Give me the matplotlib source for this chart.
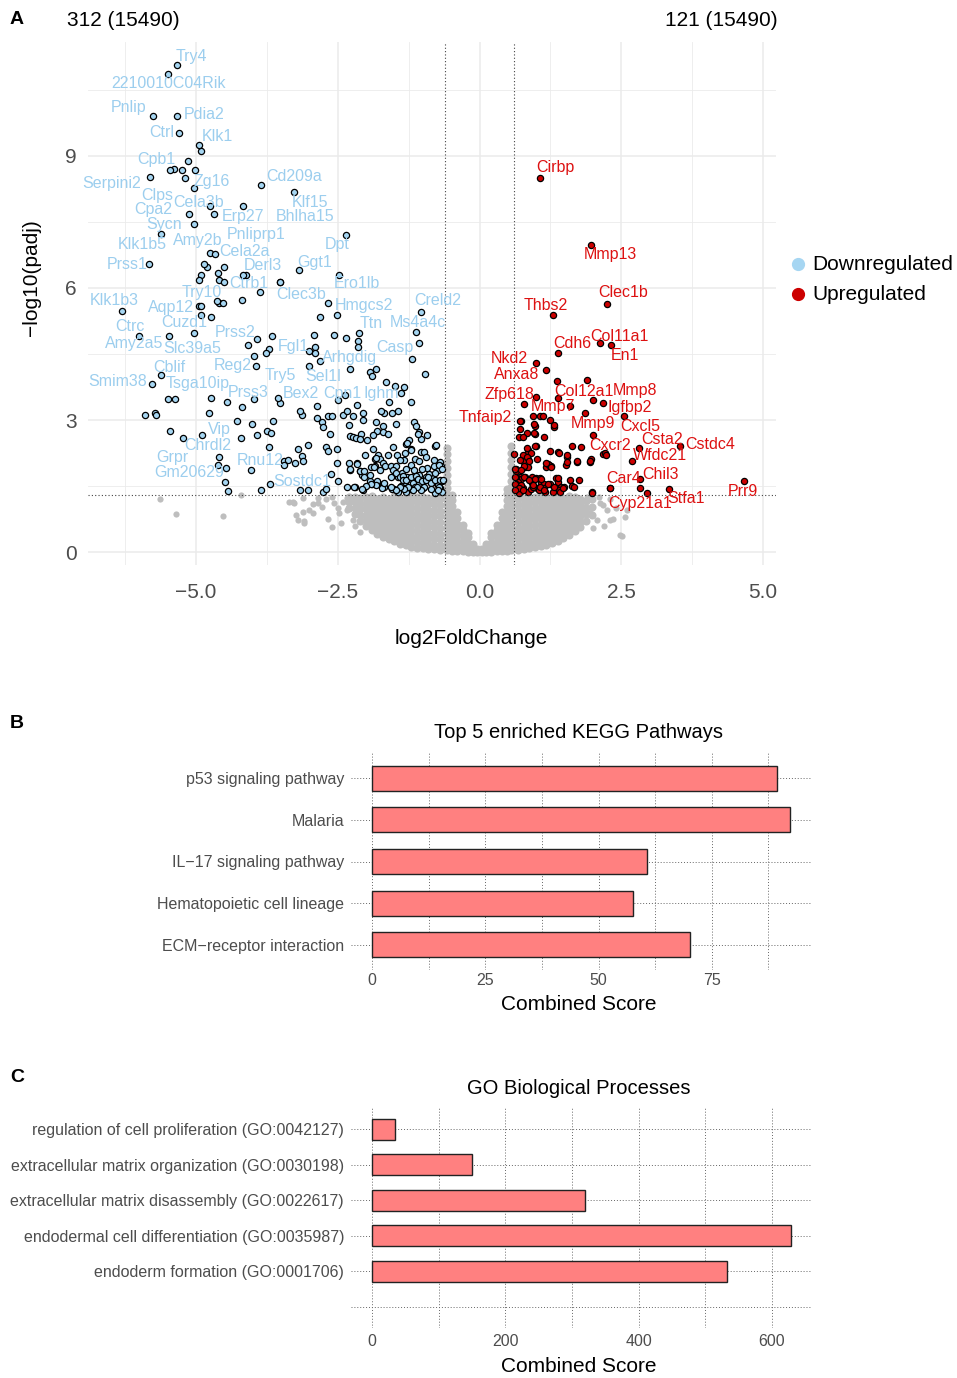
import matplotlib
matplotlib.use("Agg")
import matplotlib.pyplot as plt
from matplotlib.lines import Line2D
import numpy as np

plt.rcParams['font.family'] = ['Liberation Sans', 'DejaVu Sans']

W, H = 957, 1378

# ---------------- data ----------------
n_total = 15490
n_down = 312
n_up = 121
lfc_cut = 0.6
padj_cut = -np.log10(0.05)

# labelled down-regulated genes: (gene, log2FC, -log10 padj)
down_labeled = [
    ("Try4", -5.33, 11.07), ("2210010C04Rik", -5.50, 10.87), ("Pnlip", -5.76, 9.91),
    ("Pdia2", -5.33, 9.91), ("Ctrl", -5.30, 9.53), ("Klk1", -4.94, 9.25),
    ("Cpb1", -5.14, 8.89), ("Serpini2", -5.81, 8.52), ("Zg16", -5.03, 8.27),
    ("Cd209a", -3.86, 8.35), ("Clps", -5.20, 8.50), ("Cela3b", -4.76, 7.87),
    ("Cpa2", -5.12, 7.69), ("Erp27", -4.18, 7.87), ("Sycn", -5.03, 7.45),
    ("Klk1b5", -5.62, 7.22), ("Amy2b", -4.75, 6.80), ("Klf15", -3.28, 8.18),
    ("Bhlha15", -4.68, 7.69), ("Pnliprp1", -4.51, 6.47), ("Cela2a", -4.66, 6.77),
    ("Derl3", -4.11, 6.29), ("Ctrb1", -4.17, 6.29), ("Prss1", -5.83, 6.54),
    ("Ggt1", -3.18, 6.42), ("Dpt", -2.36, 7.21), ("Ero1lb", -2.47, 6.30),
    ("Clec3b", -3.51, 6.13), ("Try10", -4.63, 5.71), ("Klk1b3", -6.31, 5.48),
    ("Aqp12", -4.92, 5.39), ("Hmgcs2", -2.67, 5.67), ("Creld2", -1.03, 5.45),
    ("Ttn", -2.51, 5.38), ("Ms4a4c", -1.12, 5.00), ("Cuzd1", -5.03, 4.98),
    ("Ctrc", -6.01, 4.90), ("Amy2a5", -5.48, 4.90), ("Prss2", -3.93, 4.85),
    ("Slc39a5", -4.08, 4.70), ("Fgl1", -3.00, 4.57), ("Arhgdig", -2.28, 4.17),
    ("Casp", -1.19, 4.39), ("Reg2", -3.94, 4.22), ("Cblif", -5.61, 4.02),
    ("Smim38", -5.77, 3.82), ("Tsga10ip", -4.74, 3.49), ("Try5", -3.56, 3.51),
    ("Sel1l", -2.38, 3.56), ("Prss3", -4.46, 3.40), ("Bex2", -3.16, 3.20),
    ("Cpn1", -2.49, 3.45), ("Ighm", -1.74, 3.20), ("Vip", -4.89, 2.67),
    ("Chrdl2", -4.59, 2.17), ("Grpr", -5.23, 2.58), ("Gm20629", -4.62, 1.98),
    ("Rnu12", -4.03, 1.86), ("Sostdc1", -3.02, 1.40),
]

# other significant down-regulated genes: (log2FC, -log10 padj)
down_other = [
    (-5.38, 8.71), (-5.45, 8.68), (-5.24, 8.68), (-5.02, 8.68), (-4.92, 9.12),
    (-4.81, 6.47), (-4.86, 6.54), (-4.92, 6.30), (-4.94, 6.18), (-4.62, 6.33), (-4.59, 6.19), (-4.50, 6.13),
    (-3.52, 6.13), (-3.87, 5.90), (-4.95, 5.59), (-4.92, 5.59), (-4.60, 5.67), (-4.52, 5.67), (-4.19, 5.73),
    (-4.73, 5.33), (-3.66, 4.92), (-3.72, 4.61), (-3.77, 4.52), (-3.98, 4.45), (-4.19, 3.30), (-3.97, 3.47),
    (-5.49, 3.48), (-5.37, 3.48), (-5.90, 3.12), (-5.73, 3.17), (-5.70, 3.11), (-4.77, 3.16), (-4.28, 2.98),
    (-4.02, 2.91), (-3.64, 2.98), (-5.46, 2.74), (-4.21, 2.58), (-3.92, 2.67), (-3.74, 2.74), (-3.67, 2.70),
    (-4.47, 1.90), (-4.49, 1.59), (-4.43, 1.39), (-3.85, 1.41), (-3.70, 1.55), (-3.72, 2.39), (-2.81, 5.33),
    (-1.06, 4.74), (-2.92, 4.93), (-2.57, 4.93), (-2.35, 4.87), (-2.13, 4.97), (-2.14, 4.80), (-2.14, 4.65),
    (-2.91, 4.65), (-2.91, 4.53), (-3.01, 4.22), (-2.82, 4.33), (-0.96, 4.04), (-1.93, 4.08), (-1.82, 4.17),
    (-1.90, 4.01), (-1.65, 3.86), (-1.49, 3.78), (-1.33, 3.74), (-1.39, 3.62), (-1.21, 3.42), (-1.59, 3.42),
    (-3.52, 3.39), (-3.13, 3.12), (-2.86, 3.32), (-2.87, 3.04), (-2.67, 3.09), (-2.60, 3.09), (-2.78, 2.95),
    (-2.76, 2.85), (-2.63, 2.69), (-2.40, 3.11), (-2.34, 3.20), (-2.23, 3.09), (-2.16, 3.35), (-2.06, 3.17),
    (-2.06, 2.99), (-2.29, 2.64), (-2.23, 2.61), (-2.17, 2.58), (-2.09, 2.69), (-2.11, 2.57), (-1.99, 2.55),
    (-1.83, 2.95), (-1.71, 2.87), (-1.80, 2.74), (-1.70, 2.73), (-1.62, 2.68), (-1.87, 2.67), (-1.68, 3.17),
    (-1.54, 3.15), (-1.44, 3.20), (-1.16, 2.95), (-1.12, 2.86), (-1.06, 2.72), (-1.04, 2.56), (-0.92, 2.65),
    (-1.24, 2.54), (-1.29, 2.45), (-1.21, 2.33), (-1.31, 2.26), (-1.03, 2.27), (-0.98, 2.27), (-0.78, 2.42),
    (-1.52, 2.39), (-1.45, 2.20), (-1.34, 2.08), (-2.02, 2.21), (-1.88, 2.35), (-1.79, 2.20), (-1.85, 2.12),
    (-1.76, 2.12), (-1.62, 2.20), (-1.84, 1.96), (-1.71, 2.03), (-1.67, 1.96), (-1.56, 1.95), (-1.48, 1.95),
    (-3.44, 2.06), (-3.37, 2.08), (-3.45, 1.97), (-3.26, 2.02), (-3.13, 2.18), (-3.11, 2.07), (-3.03, 2.44),
    (-3.21, 2.34), (-2.71, 2.38), (-2.68, 2.30), (-2.52, 2.35), (-2.51, 2.02), (-2.28, 1.86), (-2.31, 2.02),
    (-2.16, 2.02), (-2.11, 1.84), (-2.07, 1.75), (-2.62, 1.77), (-2.50, 1.62), (-3.17, 1.40), (-2.76, 1.36),
    (-2.71, 1.43), (-2.20, 1.47), (-2.06, 1.42), (-1.89, 1.55), (-1.93, 1.62), (-1.80, 1.62), (-1.70, 1.55),
    (-1.68, 1.48), (-1.51, 1.44), (-1.39, 1.50), (-1.32, 1.58), (-1.44, 1.70), (-1.36, 1.79), (-1.28, 1.70),
    (-1.21, 1.67), (-1.14, 1.75), (-1.06, 1.74), (-1.18, 1.56), (-1.07, 1.55), (-0.99, 1.61), (-0.88, 1.61),
    (-0.83, 1.70), (-0.81, 1.58), (-0.74, 1.53), (-0.70, 1.46), (-0.67, 1.62), (-0.81, 2.09), (-0.70, 2.05),
    (-0.68, 1.95), (-0.74, 1.87), (-0.89, 1.77), (-0.95, 1.71), (-0.99, 1.45), (-1.14, 1.48), (-1.21, 1.44),
    (-0.79, 1.33), (-0.67, 1.36), (-1.30, 1.36), (-1.43, 1.36), (-1.55, 1.44),
    (-2.30, 2.89), (-1.48, 2.90), (-1.08, 2.68), (-1.28, 2.47), (-1.20, 2.31), (-0.77, 2.43), (-1.83, 2.13),
    (-1.41, 2.09), (-1.14, 2.12), (-1.07, 2.06), (-1.20, 1.97), (-0.94, 2.17), (-0.81, 1.95), (-0.72, 1.97),
    (-0.67, 1.88), (-0.79, 1.79), (-0.92, 1.92), (-1.01, 1.88), (-1.15, 1.86), (-1.30, 1.89), (-2.28, 1.89),
    (-2.16, 2.01), (-2.10, 1.85), (-2.04, 1.83), (-2.03, 1.71), (-1.92, 1.93), (-1.93, 1.75), (-1.86, 1.94),
    (-1.75, 1.86), (-1.53, 1.86), (-1.56, 1.71), (-1.48, 1.79), (-1.41, 1.71), (-1.35, 1.73), (-1.35, 1.64),
    (-1.30, 1.64), (-1.21, 1.71), (-1.12, 1.73), (-1.08, 1.66), (-1.01, 1.62), (-0.94, 1.64), (-0.91, 1.71),
    (-0.86, 1.56), (-0.79, 1.64), (-0.69, 1.64), (-0.65, 1.64), (-0.71, 1.47), (-0.74, 1.41), (-0.86, 1.43),
    (-0.98, 1.47), (-1.04, 1.41), (-1.11, 1.47), (-1.18, 1.41), (-1.27, 1.47), (-1.34, 1.43), (-1.41, 1.48),
    (-1.48, 1.41), (-1.56, 1.48), (-1.72, 1.45), (-1.68, 1.56), (-1.83, 1.52), (-1.92, 1.55), (-2.00, 1.50),
    (-2.07, 1.43), (-2.21, 1.47), (-2.34, 1.47),
]

# labelled up-regulated genes
up_labeled = [
    ("Cirbp", 1.06, 8.49), ("Mmp13", 1.96, 6.98), ("Clec1b", 2.24, 5.64),
    ("Thbs2", 1.30, 5.38), ("Col11a1", 2.13, 4.74), ("En1", 2.32, 4.70),
    ("Cdh6", 1.38, 4.52), ("Nkd2", 1.00, 4.30), ("Anxa8", 1.17, 4.14),
    ("Zfp618", 0.99, 3.53), ("Col12a1", 1.38, 3.49), ("Mmp8", 2.18, 3.39),
    ("Mmp7", 1.59, 3.32), ("Igfbp2", 2.00, 3.45), ("Tnfaip2", 0.72, 2.98),
    ("Mmp9", 2.01, 2.67), ("Cxcl5", 2.55, 3.09), ("Cxcr2", 2.23, 2.20),
    ("Csta2", 2.82, 2.37), ("Cstdc4", 3.54, 2.42), ("Wfdc21", 2.69, 2.07),
    ("Car4", 2.30, 1.46), ("Chil3", 2.83, 1.67), ("Cyp21a1", 2.95, 1.33),
    ("Stfa1", 3.34, 1.44), ("Prr9", 4.66, 1.61),
]

up_other = [
    (1.89, 3.92), (1.36, 3.89), (0.79, 3.36), (1.86, 3.16), (0.94, 3.08), (1.07, 3.09), (1.12, 3.09), (1.25, 3.00),
    (1.32, 2.83), (0.74, 2.97), (0.72, 2.80), (0.83, 2.70), (0.70, 2.61), (0.77, 2.61), (0.97, 2.86), (0.97, 2.69),
    (1.13, 2.62), (2.18, 2.23), (1.63, 2.42), (1.79, 2.39), (1.39, 2.27), (1.55, 2.17), (1.72, 2.05), (1.96, 2.11),
    (1.94, 2.04), (1.53, 1.98), (1.20, 1.99), (1.26, 1.95), (1.02, 2.11), (1.00, 2.41), (0.85, 2.32), (0.83, 2.23),
    (0.77, 2.21), (0.86, 2.11), (0.76, 2.07), (0.80, 1.94), (0.85, 1.93), (0.65, 1.88), (0.72, 2.09), (0.60, 2.23),
    (0.64, 1.83), (0.72, 1.71), (0.67, 1.64), (0.74, 1.67), (0.81, 1.71), (0.93, 1.71), (0.99, 1.68), (1.07, 1.69),
    (0.92, 1.56), (1.01, 1.45), (1.08, 1.56), (1.14, 1.54), (1.15, 1.36), (1.05, 1.41), (1.25, 1.54), (1.29, 1.36),
    (1.35, 1.68), (1.38, 1.58), (1.44, 1.48), (1.41, 1.41), (1.49, 1.47), (1.60, 1.64), (1.63, 1.50), (1.66, 1.47),
    (1.99, 1.36), (2.83, 1.46), (1.18, 1.94), (1.23, 1.98), (0.65, 1.71), (0.67, 1.60), (0.64, 1.54), (0.72, 1.48),
    (0.66, 1.41), (0.74, 1.38), (0.70, 1.35), (0.77, 1.45), (0.85, 1.37), (0.91, 1.44), (0.95, 1.48), (1.13, 1.45),
    (0.96, 2.70), (0.96, 2.90), (1.31, 2.89), (1.41, 2.26), (0.98, 2.42), (0.83, 2.37), (0.91, 2.26), (0.84, 2.17),
    (0.78, 1.96), (0.87, 2.07), (0.62, 1.88), (0.73, 1.86), (0.63, 1.70), (0.78, 1.71), (0.62, 1.55), (0.73, 1.52),
    (0.69, 1.45), (0.63, 1.41), (0.76, 1.41), (0.88, 1.64), (0.98, 1.67), (1.09, 1.67), (0.95, 1.52), (1.07, 1.48),
    (1.13, 1.41), (1.20, 1.55), (1.31, 1.48), (1.38, 1.68), (1.42, 1.37), (1.48, 1.45), (1.54, 2.04), (1.76, 1.64),
    (1.94, 2.06), (1.98, 1.35), (1.26, 1.93), (1.18, 2.03), (1.25, 2.30), (1.72, 2.07), (2.30, 1.45), (1.54, 2.20),
    (2.22, 2.24),
]

# non-significant genes, grouped by log2FC: {log2FC: [-log10 padj, ...]}
ns_columns = {
    -2.30: [0.99, 1.13, 1.25],
    -2.20: [0.87, 1.01, 1.14, 1.26],
    -2.10: [0.71, 0.84, 0.97, 1.10, 1.23],
    -2.00: [0.59, 0.72, 0.85, 0.98, 1.11, 1.24],
    -1.90: [0.50, 0.63, 0.76, 0.89, 1.02, 1.15, 1.27],
    -1.80: [0.42, 0.55, 0.68, 0.81, 0.94, 1.07, 1.20],
    -1.70: [0.35, 0.48, 0.61, 0.74, 0.87, 1.00, 1.13, 1.26],
    -1.60: [0.29, 0.42, 0.55, 0.68, 0.81, 0.94, 1.07, 1.20],
    -1.50: [0.24, 0.36, 0.49, 0.62, 0.75, 0.88, 1.01, 1.14, 1.27],
    -1.40: [0.19, 0.31, 0.44, 0.57, 0.70, 0.83, 0.96, 1.09, 1.22],
    -1.30: [0.15, 0.27, 0.40, 0.53, 0.66, 0.79, 0.92, 1.05, 1.18, 1.28],
    -1.20: [0.12, 0.24, 0.37, 0.50, 0.63, 0.76, 0.89, 1.02, 1.15, 1.27],
    -1.10: [0.10, 0.22, 0.35, 0.48, 0.61, 0.74, 0.87, 1.00, 1.13, 1.25],
    -1.00: [0.08, 0.20, 0.33, 0.46, 0.59, 0.72, 0.85, 0.98, 1.11, 1.24],
    -0.90: [0.07, 0.18, 0.31, 0.44, 0.57, 0.70, 0.83, 0.96, 1.09, 1.22],
    -0.80: [0.06, 0.17, 0.30, 0.43, 0.56, 0.69, 0.82, 0.95, 1.08, 1.21],
    -0.70: [0.05, 0.16, 0.29, 0.42, 0.55, 0.68, 0.81, 0.94, 1.07, 1.20, 1.28],
    -0.57: [0.04, 0.15, 0.28, 0.41, 0.54, 0.67, 0.80, 0.93, 1.06, 1.19, 1.32, 1.46, 1.60, 1.75, 1.90, 2.06, 2.22, 2.37],
    -0.48: [0.03, 0.14, 0.27, 0.40, 0.53, 0.66, 0.79, 0.92, 1.05, 1.18, 1.30],
    -0.39: [0.02, 0.12, 0.25, 0.38, 0.51, 0.64, 0.77, 0.90],
    -0.30: [0.02, 0.11, 0.23, 0.36, 0.49, 0.62],
    -0.21: [0.01, 0.09, 0.21, 0.33, 0.44],
    -0.12: [0.01, 0.08, 0.19],
    -0.04: [0.00, 0.06],
    0.04: [0.00, 0.06],
    0.12: [0.01, 0.08, 0.19],
    0.21: [0.01, 0.09, 0.21, 0.33, 0.44],
    0.30: [0.02, 0.11, 0.23, 0.36, 0.49, 0.62],
    0.39: [0.02, 0.12, 0.25, 0.38, 0.51, 0.64, 0.77, 0.90],
    0.48: [0.03, 0.14, 0.27, 0.40, 0.53, 0.66, 0.79, 0.92, 1.05, 1.18, 1.31, 1.44],
    0.56: [0.04, 0.15, 0.28, 0.41, 0.54, 0.67, 0.80, 0.93, 1.06, 1.19, 1.32, 1.47, 1.62, 1.78, 1.94, 2.10, 2.26, 2.40],
    0.68: [0.05, 0.16, 0.29, 0.42, 0.55, 0.68, 0.81, 0.94, 1.07, 1.20, 1.28],
    0.78: [0.07, 0.18, 0.31, 0.44, 0.57, 0.70, 0.83, 0.96, 1.09, 1.22],
    0.88: [0.09, 0.20, 0.33, 0.46, 0.59, 0.72, 0.85, 0.98, 1.11, 1.24],
    0.98: [0.11, 0.22, 0.35, 0.48, 0.61, 0.74, 0.87, 1.00, 1.13, 1.26],
    1.08: [0.14, 0.25, 0.38, 0.51, 0.64, 0.77, 0.90, 1.03, 1.16, 1.27],
    1.18: [0.17, 0.29, 0.42, 0.55, 0.68, 0.81, 0.94, 1.07, 1.20],
    1.28: [0.21, 0.33, 0.46, 0.59, 0.72, 0.85, 0.98, 1.11, 1.24],
    1.38: [0.26, 0.38, 0.51, 0.64, 0.77, 0.90, 1.03, 1.16, 1.27],
    1.48: [0.32, 0.44, 0.57, 0.70, 0.83, 0.96, 1.09, 1.22],
    1.58: [0.39, 0.51, 0.64, 0.77, 0.90, 1.03, 1.16, 1.27],
    1.68: [0.47, 0.59, 0.72, 0.85, 0.98, 1.11, 1.24],
    1.78: [0.56, 0.68, 0.81, 0.94, 1.07, 1.20],
    1.88: [0.70, 0.86, 1.01, 1.16],
    1.98: [0.83, 1.02, 1.20],
}

# scattered non-significant genes outside the dense cloud
ns_other = [
    (-3.29, 1.14), (-3.23, 0.84), (-3.10, 0.71), (-2.93, 0.89), (-2.94, 1.08), (-3.12, 1.22),
    (-2.77, 1.03), (-2.68, 0.74), (-2.61, 0.56), (-2.44, 0.65), (-2.41, 1.14), (-2.47, 0.88),
    (-2.33, 0.95), (-2.24, 0.73), (-2.33, 1.22), (-2.56, 1.11), (-2.60, 1.25), (-2.85, 1.22),
    (-2.20, 0.60), (-2.10, 0.45), (-3.00, 0.95), (-2.70, 1.20), (-2.50, 1.00), (-3.36, 1.14),
    (-3.27, 1.11), (-3.12, 0.92), (-3.20, 0.73), (-3.09, 0.67), (-2.85, 1.11),
    (-5.63, 1.21), (-5.35, 0.87), (-4.52, 0.81), (-4.21, 1.29),
    (1.95, 0.88), (2.07, 0.73), (2.13, 1.11), (2.24, 0.95), (2.48, 0.39), (2.57, 0.80),
    (1.89, 1.26), (2.30, 1.20), (2.40, 1.00), (2.00, 0.55), (2.20, 0.60), (2.60, 0.95),
    (2.10, 1.25), (2.35, 0.75), (2.18, 1.07), (2.30, 0.73), (2.51, 0.36),
]

# label placement (pixels right, pixels down from the point)
label_nudge = {
    "Try4": (14, -8), "2210010C04Rik": (1, 10), "Pnlip": (-24, -8), "Pdia2": (27, -1),
    "Ctrl": (-17, 0), "Klk1": (18, -8), "Cpb1": (-32, -1), "Serpini2": (-38, 6),
    "Zg16": (17, -7), "Cd209a": (33, -8), "Clps": (-27, 18), "Cela3b": (-11, -3),
    "Cpa2": (-36, -4), "Erp27": (0, 11), "Sycn": (-30, 0), "Klk1b5": (-19, 10),
    "Amy2b": (-12, -12), "Klf15": (16, 10), "Bhlha15": (91, 3), "Pnliprp1": (32, -33),
    "Cela2a": (29, -3), "Derl3": (16, -10), "Ctrb1": (6, 8), "Prss1": (-22, 0),
    "Ggt1": (15, -7), "Dpt": (-9, 10), "Ero1lb": (17, 9), "Clec3b": (21, 12),
    "Try10": (-15, -8), "Klk1b3": (-7, -10), "Aqp12": (-30, -7), "Hmgcs2": (36, 3),
    "Creld2": (17, -12), "Ttn": (34, 8), "Ms4a4c": (2, -9), "Cuzd1": (-10, -10),
    "Ctrc": (-9, -10), "Amy2a5": (-35, 7), "Prss2": (-22, -6), "Slc39a5": (-56, 3),
    "Fgl1": (-16, -4), "Arhgdig": (-1, -11), "Casp": (-17, -11), "Reg2": (-23, -1),
    "Cblif": (8, -8), "Smim38": (-35, -2), "Tsga10ip": (-13, -15), "Try5": (3, -22),
    "Sel1l": (-21, -19), "Prss3": (22, -10), "Bex2": (1, -18), "Cpn1": (4, -7),
    "Ighm": (0, -18), "Vip": (17, -5), "Chrdl2": (-12, -11), "Grpr": (-11, 19),
    "Gm20629": (-28, 8), "Rnu12": (9, -10), "Sostdc1": (-6, -9),
    "Cirbp": (16, -11), "Mmp13": (20, 10), "Clec1b": (17, -11), "Thbs2": (-7, -10),
    "Col11a1": (19, -7), "En1": (14, 10), "Cdh6": (15, -10), "Nkd2": (-27, -4),
    "Anxa8": (-29, 5), "Zfp618": (-26, -2), "Col12a1": (26, -7), "Mmp8": (32, -12),
    "Mmp7": (-17, 1), "Igfbp2": (37, 7), "Tnfaip2": (-35, -3), "Mmp9": (-1, -11),
    "Cxcl5": (16, 10), "Cxcr2": (4, -10), "Csta2": (23, -8), "Cstdc4": (30, -1),
    "Wfdc21": (28, -5), "Car4": (14, -9), "Chil3": (21, -4), "Cyp21a1": (-7, 10),
    "Stfa1": (17, 10), "Prr9": (-1, 10),
}

kegg_terms = ["p53 signaling pathway", "Malaria", "IL\u221217 signaling pathway",
              "Hematopoietic cell lineage", "ECM\u2212receptor interaction"]
kegg_scores = [89.5, 92.2, 60.8, 57.6, 70.3]

go_terms = ["regulation of cell proliferation (GO:0042127)",
            "extracellular matrix organization (GO:0030198)",
            "extracellular matrix disassembly (GO:0022617)",
            "endodermal cell differentiation (GO:0035987)",
            "endoderm formation (GO:0001706)", ""]
go_scores = [34, 150, 320, 628, 533, np.nan]

# ---------------- styling ----------------
down_fill = "#A6D6F2"
down_text = "#9CCEEE"
up_fill = "#CC0000"
up_text = "#DD1111"
ns_color = "#BEBEBE"
grid_col = "#EBEBEB"
tick_col = "#4D4D4D"
bar_fill = "#FF8080"


def fx(px):
    return px / W


def fy(py):
    return 1 - py / H


def axes_px(left, top, right, bottom):
    return [fx(left), fy(bottom), (right - left) / W, (bottom - top) / H]


fig = plt.figure(figsize=(W / 100, H / 100), dpi=100)
fig.patch.set_facecolor("white")

# ================= A: volcano =================
ax = fig.add_axes(axes_px(88, 42, 776, 565))
ax.set_xlim(-6.905, 5.229)
ax.set_ylim(-0.295, 11.59)
for s in ax.spines.values():
    s.set_visible(False)
ax.set_xticks([-5, -2.5, 0, 2.5, 5])
ax.set_xticklabels(["\u22125.0", "\u22122.5", "0.0", "2.5", "5.0"])
ax.set_xticks([-6.25, -3.75, -1.25, 1.25, 3.75], minor=True)
ax.set_yticks([0, 3, 6, 9])
ax.set_yticks([1.5, 4.5, 7.5, 10.5], minor=True)
ax.grid(True, which="major", color=grid_col, linewidth=1.1, zorder=0)
ax.grid(True, which="minor", color=grid_col, linewidth=0.6, zorder=0)
ax.set_axisbelow(True)
ax.tick_params(which="both", length=0, labelsize=15, labelcolor=tick_col)
ax.tick_params(axis="x", pad=13)
ax.tick_params(axis="y", pad=8)

# dense non-significant cloud, then the scattered ones
cloud_x = [lfc for lfc, ys in ns_columns.items() for _ in ys]
cloud_y = [y for ys in ns_columns.values() for y in ys]
ax.scatter(cloud_x, cloud_y, s=34, color=ns_color, linewidths=0, zorder=2)
ax.scatter([p[0] for p in ns_other], [p[1] for p in ns_other], s=20,
           color=ns_color, linewidths=0, zorder=2)

dx_ = [p[0] for p in down_other] + [g[1] for g in down_labeled]
dy_ = [p[1] for p in down_other] + [g[2] for g in down_labeled]
ax.scatter(dx_, dy_, s=20, facecolor=down_fill, edgecolor="black", linewidths=0.9, zorder=3)
ux_ = [p[0] for p in up_other] + [g[1] for g in up_labeled]
uy_ = [p[1] for p in up_other] + [g[2] for g in up_labeled]
ax.scatter(ux_, uy_, s=20, facecolor=up_fill, edgecolor="black", linewidths=0.9, zorder=3)

for xv in (-lfc_cut, lfc_cut):
    ax.axvline(xv, color="#444444", linestyle=(0, (1, 2)), linewidth=0.8, zorder=4)
ax.axhline(padj_cut, color="#444444", linestyle=(0, (1, 2)), linewidth=0.8, zorder=4)

for labeled, col in ((down_labeled, down_text), (up_labeled, up_text)):
    for name, xv, yv in labeled:
        ox, oy = label_nudge[name]
        ax.annotate(name, (xv, yv), xytext=(ox, -oy), textcoords="offset pixels",
                    ha="center", va="center", fontsize=11.5, color=col, zorder=6,
                    annotation_clip=False)

fig.text(fx(17), fy(20), "A", fontsize=14, fontweight="bold", ha="center", va="center")
fig.text(fx(67), fy(20), f"{n_down} ({n_total})", fontsize=15, ha="left", va="center")
fig.text(fx(778), fy(20), f"{n_up} ({n_total})", fontsize=15, ha="right", va="center")
fig.text(fx(471), fy(638), "log2FoldChange", fontsize=15, ha="center", va="center")
fig.text(fx(31), fy(278), "\u2212log10(padj)", fontsize=15, ha="center", va="center",
         rotation=90)

# legend
for yy, c, lab in ((264, down_fill, "Downregulated"), (294, up_fill, "Upregulated")):
    fig.add_artist(Line2D([fx(798)], [fy(yy)], marker="o", markersize=8.5, color=c,
                          linestyle="none", transform=fig.transFigure))
    fig.text(fx(812), fy(yy), lab, fontsize=15, ha="left", va="center")


# ================= B / C: enrichment bars =================
def enrichment_panel(box, terms, scores, xlim, major, minor, title, title_y, xlab_y, pad):
    a = fig.add_axes(axes_px(*box))
    pos = np.arange(len(terms))
    a.barh(pos, scores, height=0.6, color=bar_fill, edgecolor="#222222",
           linewidth=1.0, zorder=3)
    a.set_xlim(*xlim)
    a.set_ylim(len(terms) - 0.4, -0.6)
    a.set_yticks(pos)
    a.set_yticklabels(terms)
    a.set_xticks(major)
    a.set_xticks(minor, minor=True)
    for s in a.spines.values():
        s.set_visible(False)
    dot = dict(color="#666666", linestyle=(0, (1, 2)), linewidth=0.7)
    a.grid(True, which="both", axis="x", **dot)
    a.grid(True, which="major", axis="y", **dot)
    a.set_axisbelow(True)
    a.tick_params(which="both", length=0, labelcolor=tick_col, labelsize=11.5)
    a.tick_params(axis="y", pad=5)
    a.tick_params(axis="x", pad=pad)
    fig.text(fx(579), fy(title_y), title, fontsize=14.5, ha="center", va="center")
    fig.text(fx(579), fy(xlab_y), "Combined Score", fontsize=15, ha="center", va="center")
    return a


enrichment_panel((351, 753, 811, 970), kegg_terms, kegg_scores, (-4.64, 96.9),
                 [0, 25, 50, 75], [12.5, 37.5, 62.5, 87.5],
                 "Top 5 enriched KEGG Pathways", 733, 1005, 2)
fig.text(fx(17), fy(724), "B", fontsize=14, fontweight="bold", ha="center", va="center")

enrichment_panel((351, 1108, 811, 1328), go_terms, go_scores, (-31.5, 658.5),
                 [0, 200, 400, 600], [100, 300, 500],
                 "GO Biological Processes", 1089, 1367, 4)
fig.text(fx(17), fy(1077), "C", fontsize=14, fontweight="bold", ha="center", va="center")

fig.savefig("out.png", dpi=100, facecolor="white")
